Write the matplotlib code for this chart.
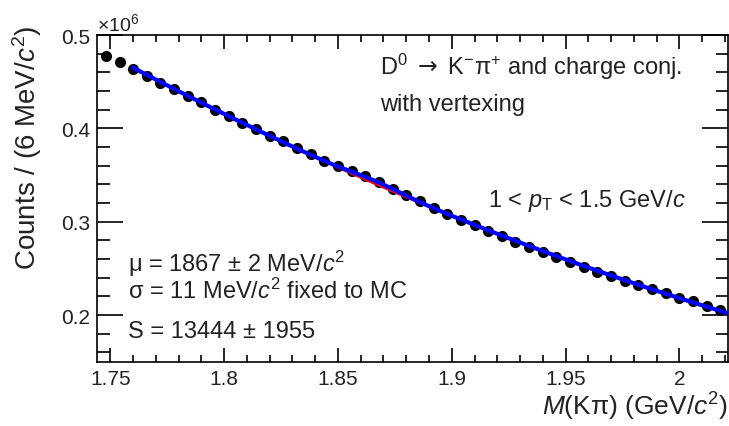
import numpy as np
import matplotlib
matplotlib.use("Agg")
import matplotlib.pyplot as plt
from matplotlib.ticker import MultipleLocator, FuncFormatter

plt.rcParams['font.family'] = ['Liberation Sans', 'DejaVu Sans']
plt.rcParams['mathtext.fontset'] = 'custom'
plt.rcParams['mathtext.rm'] = 'Liberation Sans'
plt.rcParams['mathtext.it'] = 'Liberation Sans:italic'
plt.rcParams['mathtext.bf'] = 'Liberation Sans:bold'
plt.rcParams['mathtext.sf'] = 'DejaVu Sans'

# histogram: 6 MeV bins, first bin centre at 1.748 GeV
bin_width = 0.006
first_centre = 1.748
counts = [477900, 471000, 463400, 456500, 448700, 442200, 434500, 427800,
          420100, 413700, 406000, 399700, 392300, 386100, 378800, 372800,
          365600, 360100, 354700, 348600, 342900, 335600, 328400, 321700,
          314400, 308600, 302100, 296500, 290200, 284700, 278500, 273100,
          267100, 262100, 256500, 251800, 246400, 242000, 236900, 232800,
          227900, 223700, 218800, 214700, 209800, 205800]

# fit results shown on the plot
mu = 1.867
sigma = 0.011
signal = 13444
fit_lo, fit_hi = 1.760, 2.021

x = first_centre + bin_width * np.arange(len(counts))
y = np.array(counts, dtype=float)


def gauss(xx):
    return signal * bin_width / (np.sqrt(2 * np.pi) * sigma) * np.exp(-0.5 * ((xx - mu) / sigma) ** 2)


# background: 2nd order polynomial fitted to data minus the gaussian
sel = x >= fit_lo
bg_par = np.polyfit(x[sel], y[sel] - gauss(x[sel]), 2)
xf = np.linspace(fit_lo, fit_hi, 300)
bg = np.polyval(bg_par, xf)
total = bg + gauss(xf)

fig = plt.figure(figsize=(7.29, 4.27), dpi=100)
ax = fig.add_axes([97 / 729, 1 - 363.3 / 427, 631 / 729, (363.3 - 36) / 427])

ax.errorbar(x, y, yerr=np.sqrt(y), fmt='o', color='black', ms=7, lw=1, zorder=3)
ax.plot(xf, bg, color='red', lw=2, zorder=4)
ax.plot(xf, total, color='blue', lw=3, zorder=5)

ax.set_xlim(1.7441, 2.0214)
ax.set_ylim(149500, 500000)

ax.xaxis.set_major_locator(MultipleLocator(0.05))
ax.xaxis.set_minor_locator(MultipleLocator(0.01))
ax.yaxis.set_major_locator(MultipleLocator(100000))
ax.yaxis.set_minor_locator(MultipleLocator(20000))
ax.xaxis.set_major_formatter(FuncFormatter(lambda v, p: f'{v:g}'))
ax.yaxis.set_major_formatter(FuncFormatter(lambda v, p: f'{v / 1e6:g}'))

ax.tick_params(axis='both', which='both', direction='in', top=True, right=True,
               labelsize=15, width=1.2, labelcolor='#222222')
ax.tick_params(axis='x', which='major', length=10, pad=5)
ax.tick_params(axis='x', which='minor', length=5)
ax.tick_params(axis='y', which='major', length=19, pad=5)
ax.tick_params(axis='y', which='minor', length=9)
for s in ax.spines.values():
    s.set_linewidth(1.2)

txt = '#222222'
fig.text(97 / 729, 1 - 31 / 427, r'$\times$10$^{6}$', fontsize=14, va='baseline', color=txt)
fig.text(27 / 729, 1 - 26 / 427, r'Counts / (6 MeV/$c^{2}$)', fontsize=20,
         rotation=90, ha='center', va='top', color=txt)
fig.text(728 / 729, 1 - 416 / 427, r'$M$(Kπ) (GeV/$c^{2}$)', fontsize=19,
         ha='right', va='baseline', color=txt)

fig.text(380 / 729, 1 - 75 / 427,
         r'D$^{0}$ $\mathsf{\rightarrow}$ K$^{-}$π$^{+}$ and charge conj.',
         fontsize=17, va='baseline', color=txt)
fig.text(380 / 729, 1 - 111 / 427, 'with vertexing', fontsize=17, va='baseline', color=txt)
fig.text(488 / 729, 1 - 207 / 427, r'1 < $p_{\mathrm{T}}$ < 1.5 GeV/$c$',
         fontsize=17, va='baseline', color=txt)
fig.text(128 / 729, 1 - 272 / 427, r'μ = 1867 ± 2 MeV/$c^{2}$', fontsize=17,
         va='baseline', color=txt)
fig.text(128 / 729, 1 - 299 / 427, r'σ = 11 MeV/$c^{2}$ fixed to MC', fontsize=17,
         va='baseline', color=txt)
fig.text(128 / 729, 1 - 338 / 427, 'S = 13444 ± 1955', fontsize=17, va='baseline', color=txt)

fig.savefig('out.png', dpi=100)
